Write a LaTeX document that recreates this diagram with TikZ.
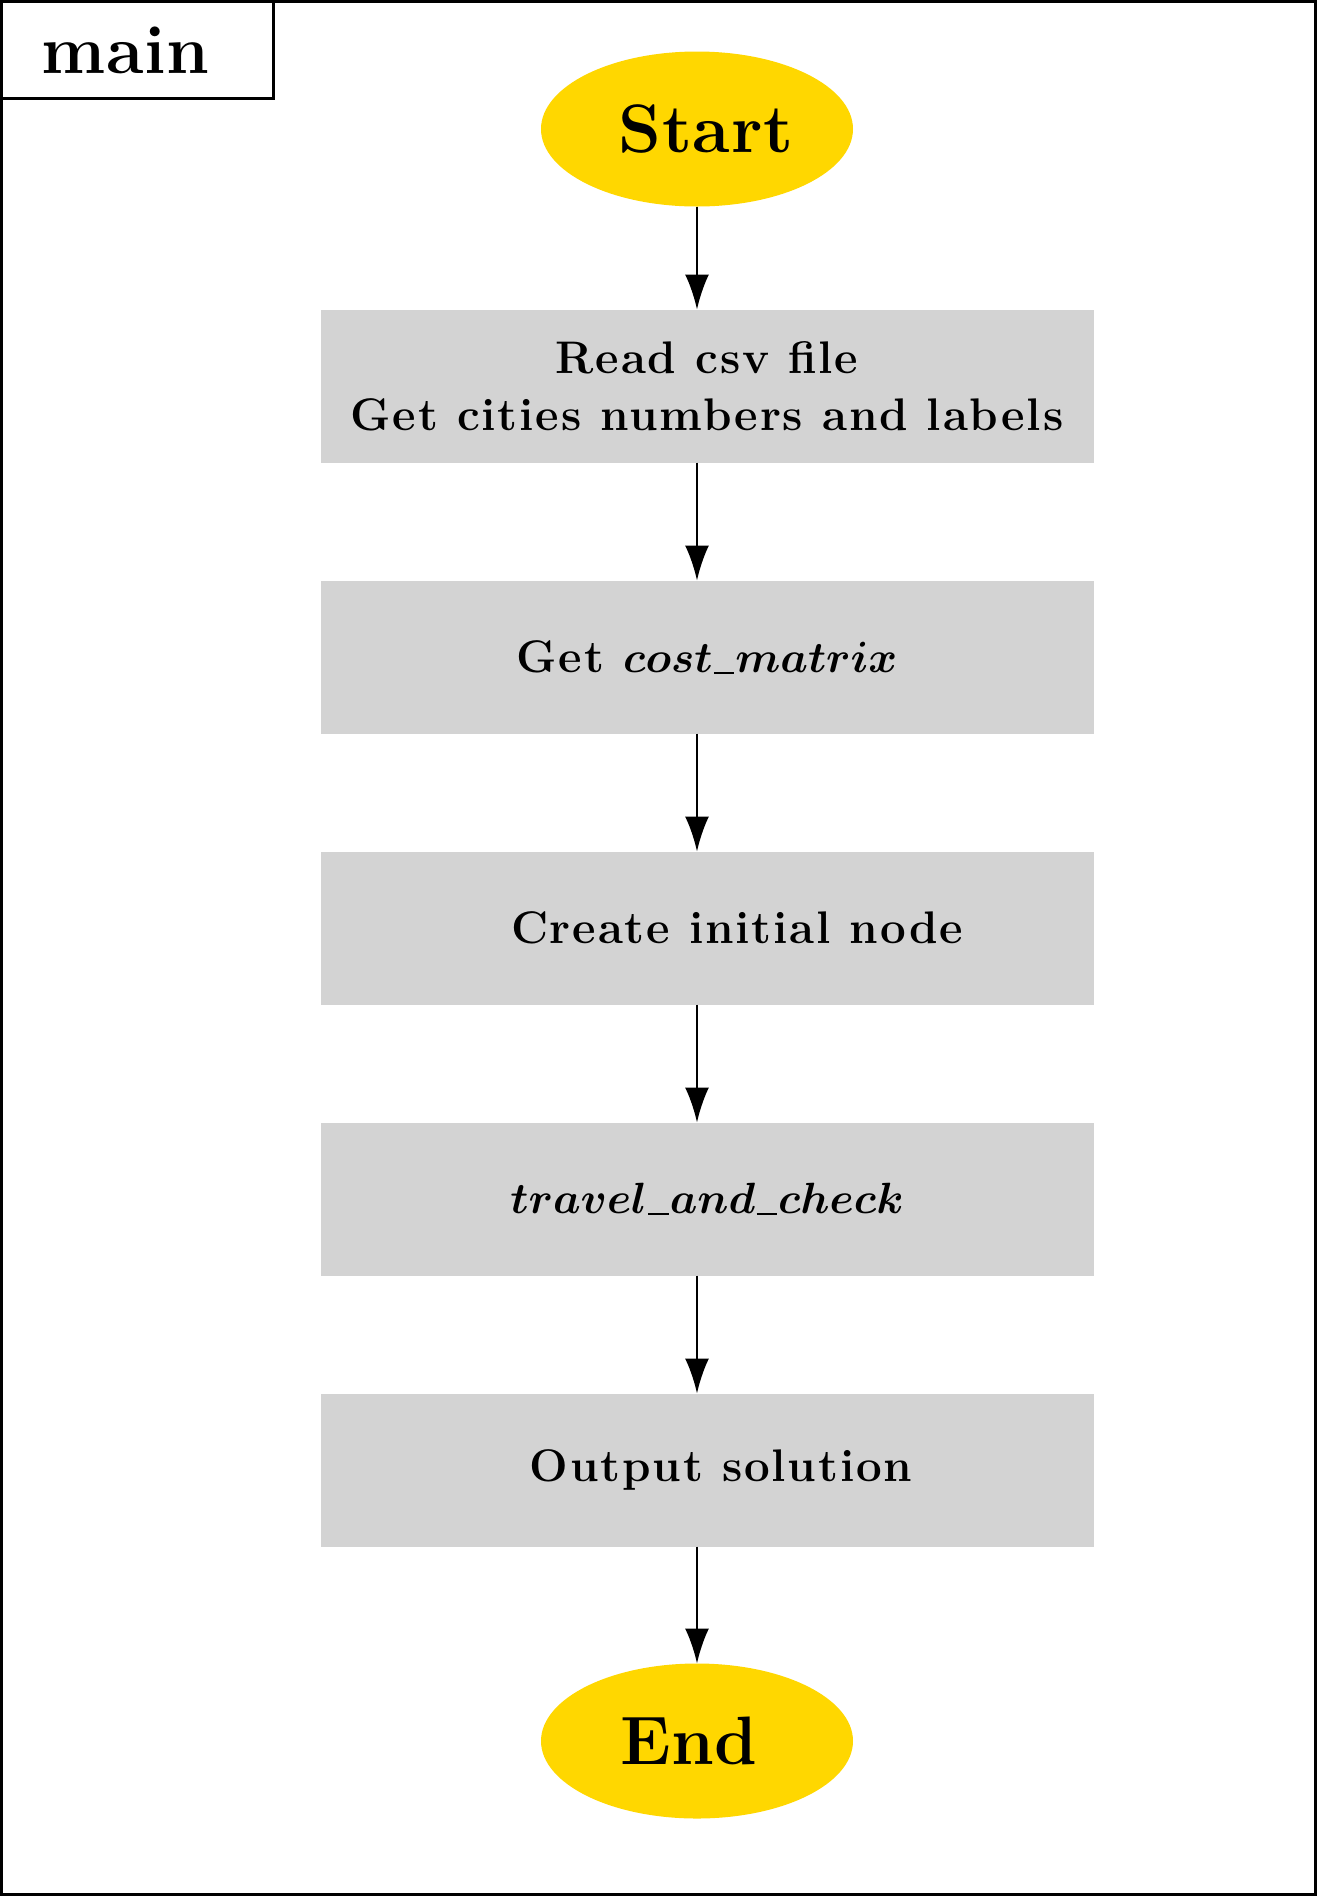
\documentclass[tikz,border=0pt]{standalone}
\usepackage{fontspec}
\usepackage{tikz}
\usetikzlibrary{shapes.geometric, arrows.meta, positioning}
\newfontfamily\boxfont[LetterSpace=4]{Latin Modern Roman}
\newfontfamily\bigfont[LetterSpace=1]{Latin Modern Roman}
\definecolor{gvgold}{HTML}{FFD700}
\definecolor{gvgray}{HTML}{D3D3D3}
% nom de fonction en italique, soulignement court
\newcommand{\usc}{\kern0.03em\rule[-0.04em]{0.48em}{0.05em}\kern0.03em}
\newcommand{\fname}[1]{{\fontsize{24}{30}\selectfont$#1$}}
\tikzset{
	box/.style={
		rectangle,
		fill=gvgray,
		minimum width=15.46cm,
		minimum height=3.06cm,
		outer sep=0pt,
		align=center,
		font=\boxfont\fontsize{26}{32.4}\selectfont\bfseries\boldmath
	},
	term/.style={
		ellipse,
		fill=gvgold,
		minimum width=6.24cm,
		minimum height=3.1cm,
		outer sep=0pt,
		font=\bigfont\fontsize{39}{46}\selectfont\bfseries
	},
	arrow/.style={
		-{Latex[length=0.7cm, width=0.48cm]},
		line width=1.4pt
	}
}

\begin{document}
\begin{tikzpicture}[node distance=2.36cm]
		\useasboundingbox (0,0) rectangle (26.34,-37.92);
		% Cadre
		\draw[line width=0.06cm] (0.03,-0.03) rectangle (26.31,-37.89);
		\node[draw, line width=0.045cm, anchor=north west, minimum width=5.44cm, minimum height=1.94cm, outer sep=0pt,
			font=\bigfont\fontsize{39}{46}\selectfont\bfseries] (Tab) at (0.03,-0.03) {main\hspace*{0.48cm}};
		
		% Les noeuds
		\node[term] (Start) at (13.94,-2.58) {\hspace*{0.36cm}Start};
		\node[box, below=2.06cm of Start, xshift=0.2cm] (Read) {Read csv file\\ Get cities numbers and labels};
		\node[box, below=of Read] (Cost) {Get \fname{cost\usc matrix}};
		\node[box, below=of Cost] (Init) {\hspace*{1.2cm}Create initial node};
		\node[box, below=of Init] (Travel) {\fname{travel\usc and\usc check}};
		\node[box, below=of Travel] (Output) {\hspace*{0.56cm}Output solution};
		\node[term, below=2.34cm of Output, xshift=-0.2cm] (End) {End\hspace*{0.32cm}};
		
		% Les liaisons
		\draw[arrow] (Start) -- (Start |- Read.north);
		\draw[arrow] (Start |- Read.south) -- (Start |- Cost.north);
		\draw[arrow] (Start |- Cost.south) -- (Start |- Init.north);
		\draw[arrow] (Start |- Init.south) -- (Start |- Travel.north);
		\draw[arrow] (Start |- Travel.south) -- (Start |- Output.north);
		\draw[arrow] (Start |- Output.south) -- (End);
	\end{tikzpicture}
\end{document}
